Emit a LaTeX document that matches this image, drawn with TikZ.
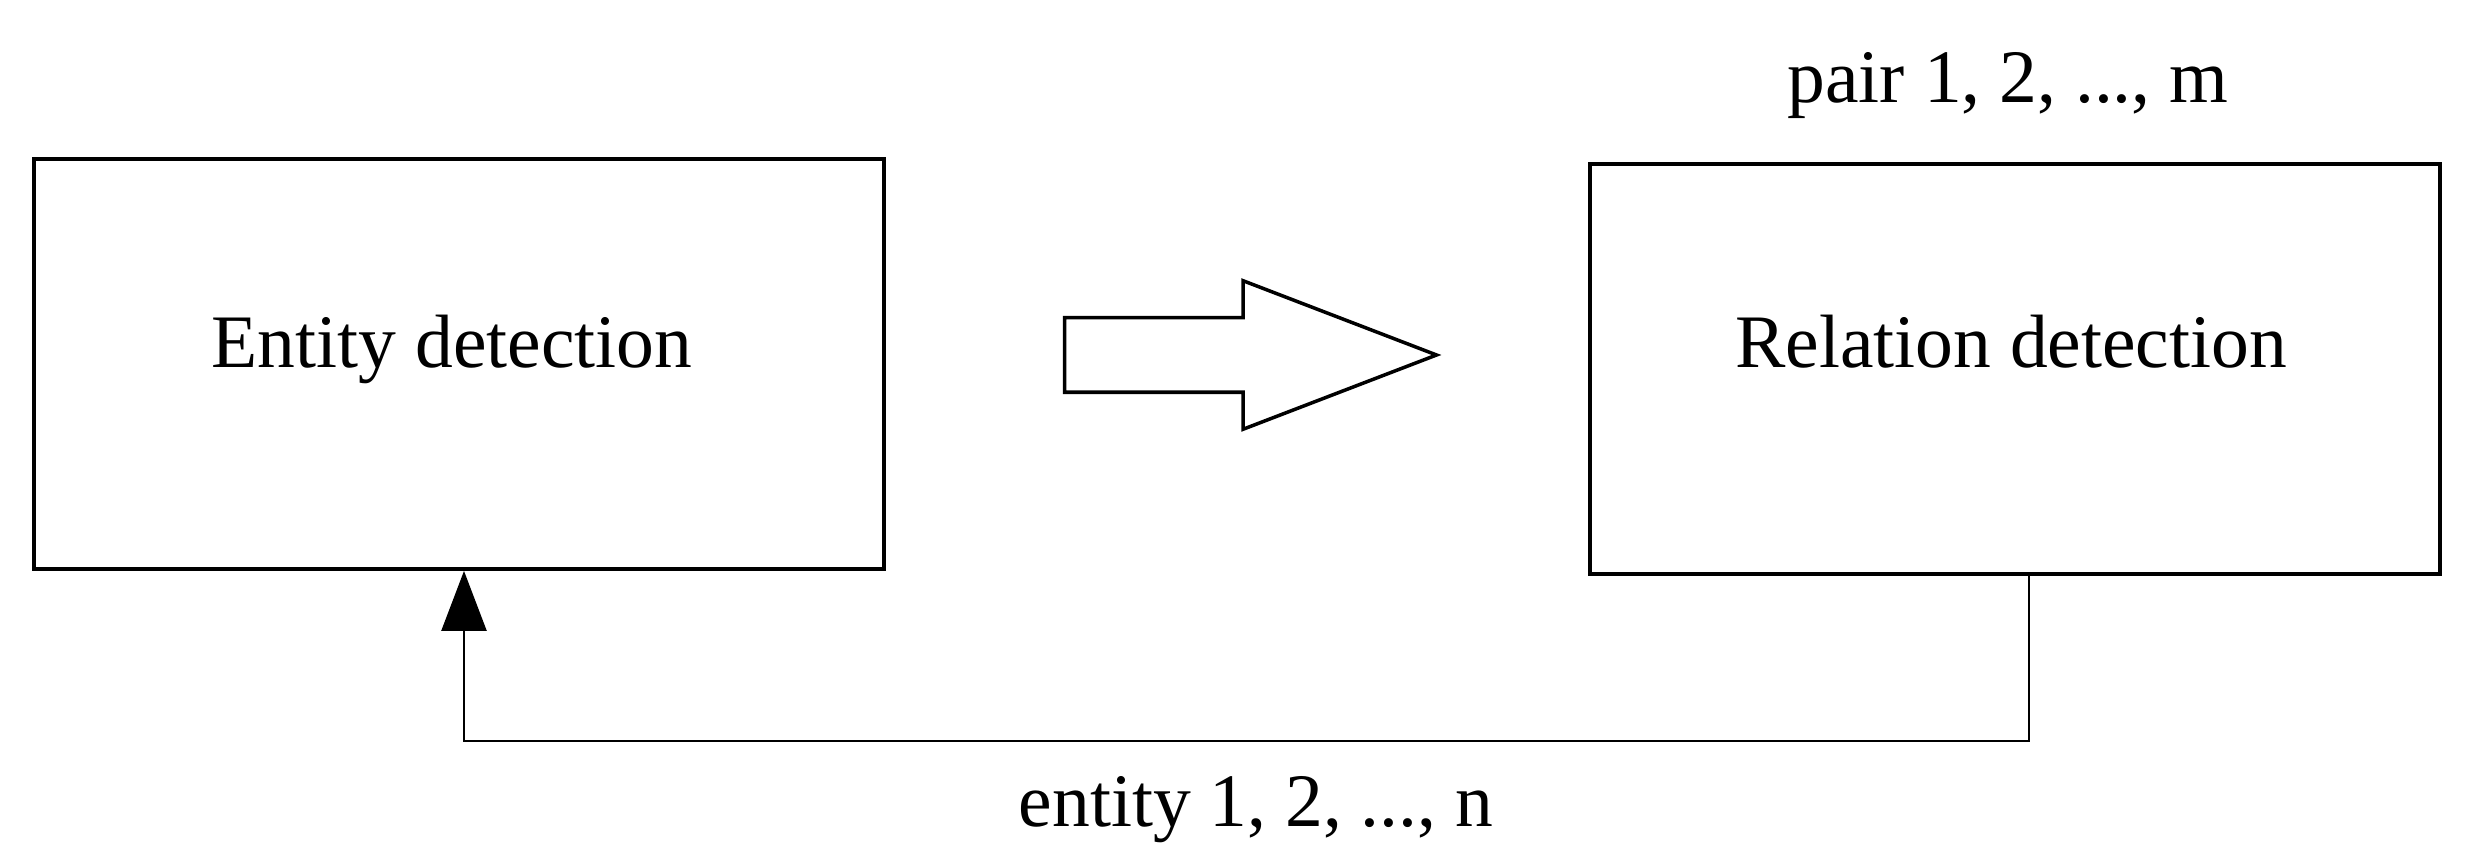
\documentclass[tikz,border=0pt]{standalone}
\usepackage{fontspec}
\setmainfont{Liberation Serif}
\usetikzlibrary{shapes.arrows,arrows.meta}

\tikzset{
  stage/.style={draw, line width=1.1pt, minimum width=8.5cm, minimum height=4.1cm, inner sep=0pt},
  flow/.style={draw, line width=1pt, single arrow, single arrow head extend=0.37cm,
    single arrow tip angle=42, minimum width=1.45cm, minimum height=3.72cm, inner sep=0.355cm},
  feedback/.style={line width=0.7pt, -{Triangle[length=0.6cm, width=0.45cm]}}
}

\begin{document}
\begin{tikzpicture}[font=\fontsize{21.5}{26}\selectfont]
\useasboundingbox (0,0) rectangle (24.79,-8.64);

% the two stages
\node[stage] (entity) at (4.59,-3.64) {};
\node[stage] (relation) at (20.15,-3.69) {};
\node[anchor=base] (entitytext) at (4.52,-3.68) {Entity detection};
\node[anchor=base] (relationtext) at (20.11,-3.68) {Relation detection};

% block arrow between them
\node[flow] (step1) at (12.02,-3.55) {};

% loop back from relation to entity
\coordinate (out) at ([xshift=0.14cm]relation.south);
\coordinate (in) at ([xshift=0.05cm]entity.south);
\draw[feedback] (out) -- ++(0,-1.65) -| (in);

% labels
\node[anchor=base] (pairs) at (20.08,-1.03) {pair 1, 2, ..., m};
\node[anchor=base] (entities) at (12.56,-8.27) {entity 1, 2, ..., n};

\end{tikzpicture}
\end{document}
